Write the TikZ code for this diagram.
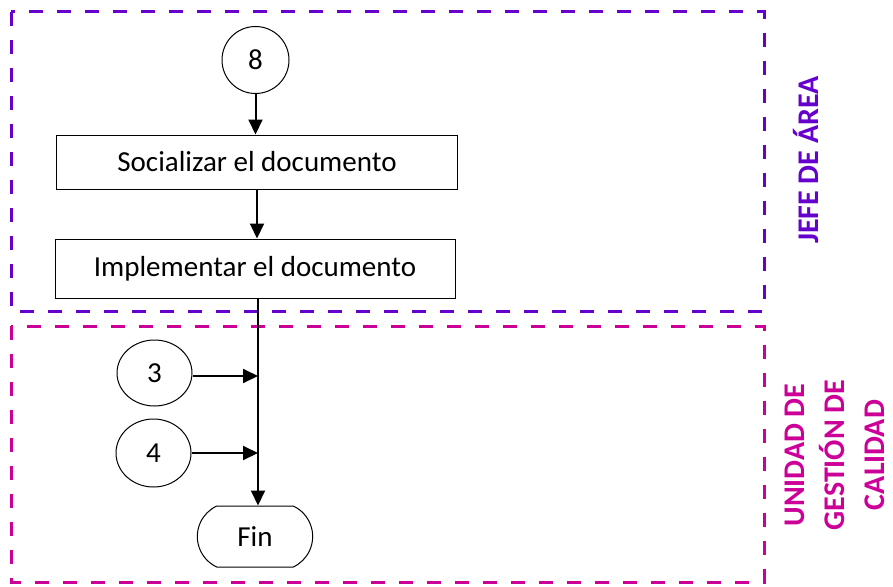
\documentclass[tikz,border=0pt]{standalone}
\usepackage{fontspec}
\setmainfont{Carlito}
\usetikzlibrary{arrows.meta,shapes.misc,shapes.geometric}
\definecolor{lanejefe}{RGB}{102,0,204}
\definecolor{lanecal}{RGB}{204,0,153}
\begin{document}
\begin{tikzpicture}[x=1pt,y=-1pt,
  lane/.style={line width=3pt,dash pattern=on 14pt off 14pt},
  txt/.style={font=\fontsize{29}{34}\selectfont},
  procbox/.style={txt,draw,line width=1pt,minimum width=401pt,minimum height=54pt},
  conn/.style={txt,draw,line width=1pt,ellipse,minimum width=67pt,minimum height=67pt},
  endbox/.style={txt,draw,line width=1pt,rounded rectangle,rounded rectangle arc length=130,
    minimum width=122pt,minimum height=61pt},
  flow/.style={line width=2pt,-{Triangle[width=14pt,length=15pt]}},
  lanelabel/.style={rotate=90,inner sep=0pt,font=\bfseries\fontsize{30}{40}\selectfont,align=center}
]
\useasboundingbox (0,0) rectangle (893,586);
% swimlanes
\draw[lane,lanejefe] (11,12) rectangle (764,311);
\draw[lane,lanecal] (11,326) rectangle (764,582);
\node[lanelabel,text=lanejefe] (labjefe) at (806,160) {JEFE DE ÁREA};
\node[lanelabel,text=lanecal] (labcal) at (835,455) {UNIDAD DE\\GESTIÓN DE\\CALIDAD};
% flow nodes
\node[conn] (c8) at (255.5,60) {8};
\node[procbox] (soc) at (257,162) {Socializar el documento};
\node[procbox,minimum width=400pt,minimum height=59pt] (impl) at (255,268.5) {Implementar el documento};
\node[conn,minimum width=75pt,minimum height=66pt] (c3) at (154.5,373) {3};
\node[conn,minimum width=75pt,minimum height=68pt] (c4) at (153.5,453) {4};
\node[endbox] (fin) at (255,536.5) {Fin};
% connectors
\coordinate (jn2) at (257,210);
\coordinate (jn3) at (258,376);
\coordinate (jn4) at (258,453);
\draw[flow] (c8.south) -- (c8.south |- soc.north);
\draw[flow] (soc.south -| jn2) -- (impl.north -| jn2);
\draw[flow] (impl.south -| jn3) -- (fin.north -| jn3);
\draw[flow] (c3.east |- jn3) -- (jn3);
\draw[flow] (c4.east) -- (jn4);
\end{tikzpicture}
\end{document}
